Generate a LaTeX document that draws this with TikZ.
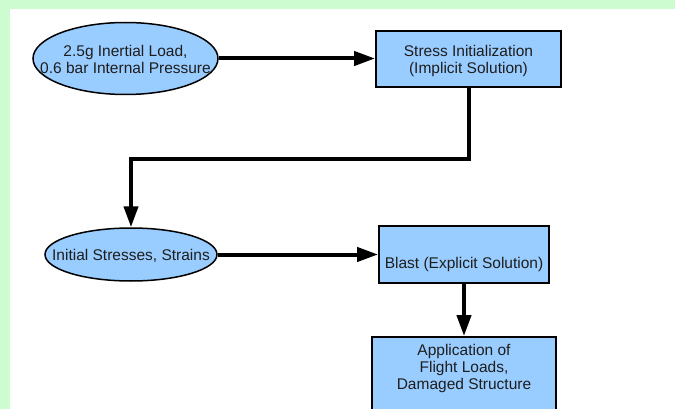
\documentclass[tikz,border=0pt]{standalone}
\usepackage{fontspec}
\setmainfont{Liberation Sans}
\usetikzlibrary{shapes.geometric,arrows.meta}
\definecolor{bggreen}{RGB}{204,252,208}
\definecolor{nodeblue}{RGB}{153,204,255}
\definecolor{txtgray}{RGB}{30,30,30}
\newcommand\ztxt[2]{\raisebox{#1}[0pt][0pt]{\makebox[0pt]{\begin{tabular}[b]{@{}c@{}}#2\end{tabular}}}}
\begin{document}
\begin{tikzpicture}[x=1pt,y=-1pt,
  every node/.style={font=\fontsize{15.5pt}{17pt}\selectfont, text=txtgray},
  oval/.style={ellipse, draw=black, line width=1.5pt, fill=nodeblue, inner sep=0pt},
  stepbox/.style={rectangle, draw=black, line width=1.8pt, fill=nodeblue, inner sep=0pt},
  flow/.style={line width=4pt, -{Triangle[length=21pt,width=14pt]}}]
\useasboundingbox (0,0) rectangle (675,409);
\fill[bggreen] (0,0) rectangle (675,409);
\fill[white] (10,9) rectangle (675,409);
\node[oval, minimum width=185pt, minimum height=72pt] (e1) at (125.5,58.5) {\ztxt{-15.5pt}{2.5g Inertial Load,\\0.6 bar Internal Pressure}};
\node[stepbox, minimum width=185pt, minimum height=56pt] (b1) at (468.5,59) {\ztxt{-14.5pt}{Stress Initialization\\(Implicit Solution)}};
\node[oval, minimum width=172pt, minimum height=53pt] (e2) at (131,254.5) {\ztxt{-6pt}{Initial Stresses, Strains}};
\node[stepbox, minimum width=170pt, minimum height=57pt] (b2) at (464,254.5) {\ztxt{-13.5pt}{Blast (Explicit Solution)}};
\node[stepbox, minimum width=184pt, minimum height=104pt] (b3) at (464,389) {\ztxt{0pt}{Application of\\Flight Loads,\\Damaged Structure}};
\draw[flow] (e1.east) -- (e1.east -| b1.west);
\draw[flow] (b1.south) -- ++(0,71) -| (e2.north);
\draw[flow] (e2.east) -- (e2.east -| b2.west);
\draw[flow] (b2.south) -- (b3.north);
\end{tikzpicture}
\end{document}
